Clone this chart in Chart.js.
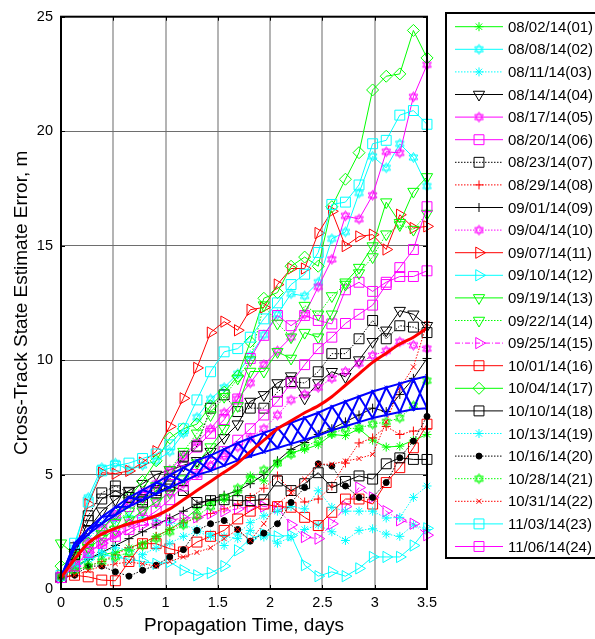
<!DOCTYPE html>
<html>
<head>
<meta charset="utf-8">
<script src="https://cdn.jsdelivr.net/npm/chart.js@4.4.1/dist/chart.umd.min.js"></script>
<style>
html, body { margin: 0; padding: 0; background: #fff; }
canvas { display: block; }
</style>
</head>
<body>
<canvas id="chart" width="595" height="639"></canvas>
<script>
// propagation time samples, days
const times = [0, 0.13, 0.26, 0.39, 0.52, 0.65, 0.78, 0.91, 1.04, 1.17, 1.3, 1.43, 1.56, 1.69,
               1.81, 1.94, 2.07, 2.2, 2.33, 2.46, 2.59, 2.72, 2.85, 2.98, 3.11, 3.24, 3.37, 3.5];
const xTicks = [0, 0.5, 1, 1.5, 2, 2.5, 3, 3.5];
const yTicks = [0, 5, 10, 15, 20, 25];

const dates = ["08/02/14(01)", "08/08/14(02)", "08/11/14(03)", "08/14/14(04)", "08/17/14(05)", "08/20/14(06)",
               "08/23/14(07)", "08/29/14(08)", "09/01/14(09)", "09/04/14(10)", "09/07/14(11)", "09/10/14(12)",
               "09/19/14(13)", "09/22/14(14)", "09/25/14(15)", "10/01/14(16)", "10/04/14(17)", "10/10/14(18)",
               "10/13/14(19)", "10/16/14(20)", "10/28/14(21)", "10/31/14(22)", "11/03/14(23)", "11/06/14(24)"];

// cross-track error per epoch, m
const s01 = [0.5,1.0,1.3,1.5,1.6,1.8,2.0,2.3,2.6,3.0,3.5,3.8,3.9,4.2,4.94,4.72,5.5,5.95,6.1,6.3,6.75,6.7,7.0,6.5,6.2,6.24,6.5,6.75];
const s02 = [0.5,1.8,4.0,5.3,5.5,5.2,5.4,5.6,6.0,6.8,7.5,8.3,8.8,9.4,10.2,11.1,12.0,12.9,12.8,13.4,15.3,15.6,17.3,18.9,18.4,19.45,18.85,17.6];
const s03 = [0.5,1.3,2.2,2.8,3.0,3.2,3.1,3.0,2.9,2.8,2.6,2.4,2.3,2.2,2.56,2.27,2.0,2.27,2.6,2.8,2.5,2.12,2.56,2.63,2.4,2.3,2.8,2.6];
const s04 = [0.5,1.6,2.6,3.4,3.9,4.3,4.6,5.0,5.2,5.4,5.6,6.0,6.6,7.2,8.19,8.48,9.0,9.3,8.33,9.0,9.49,9.27,10.0,10.8,11.3,12.16,12.0,11.5];
const s05 = [0.5,1.2,2.0,2.6,3.2,3.8,4.2,4.6,5.2,5.8,6.4,7.0,7.7,8.3,9.0,9.8,10.4,11.0,12.0,13.2,14.4,16.3,16.16,17.2,19.1,19.05,21.5,22.9];
const s06 = [0.5,1.2,2.0,2.6,3.2,3.6,4.0,4.4,5.0,5.6,6.2,6.8,7.4,8.3,10.07,11.08,11.95,11.5,11.95,11.73,11.58,13.07,13.4,13.0,13.4,13.65,13.65,13.9];
const s07 = [0.5,1.8,3.2,4.2,4.5,4.2,3.9,4.3,4.8,5.8,6.24,7.9,8.48,7.75,7.9,7.9,8.6,9.06,9.0,9.49,10.28,10.28,10.93,11.73,10.93,11.5,11.44,11.2];
const s08 = [0.5,0.8,1.0,1.2,1.5,1.8,2.0,2.3,2.6,2.9,3.1,3.3,3.5,3.7,4.0,4.4,4.94,4.29,3.8,3.93,4.5,5.5,6.38,6.6,7.1,6.75,6.9,7.0];
const s09 = [0.5,0.9,1.3,1.6,1.9,2.2,2.5,2.8,3.1,3.4,3.7,3.9,4.1,4.29,4.6,5.0,5.6,6.1,6.4,6.75,7.0,7.3,7.6,7.9,7.75,8.5,9.2,10.07];
const s10 = [0.5,1.0,1.5,2.0,2.4,2.9,3.4,3.8,4.2,4.6,5.0,5.4,5.8,6.2,6.6,7.0,7.6,8.26,8.5,8.8,9.2,9.5,9.85,10.2,10.4,10.8,10.65,10.5];
const s11 = [0.6,1.5,3.71,5.08,5.04,5.16,5.52,6.02,7.1,8.33,9.66,11.2,11.68,11.3,12.2,12.3,13.3,14.0,14.0,15.55,16.5,14.98,15.4,15.48,14.83,16.35,15.77,15.84];
const s12 = [0.5,0.9,1.3,1.5,1.4,1.3,1.2,1.1,1.18,0.82,0.6,0.7,1.0,1.69,2.2,2.4,2.3,2.34,1.04,0.56,0.75,0.56,0.9,1.4,1.4,1.4,1.9,2.65];
const s13 = [2.0,1.5,1.8,2.2,2.6,3.0,3.4,3.8,4.2,4.8,5.5,6.2,7.0,8.0,9.5,9.5,10.36,10.07,11.2,11.0,12.0,13.4,14.04,14.98,16.9,16.0,17.36,18.0];
const s14 = [0.5,1.2,1.8,2.4,2.9,3.4,3.9,4.5,5.2,6.0,6.8,7.6,8.4,9.2,10.0,12.4,11.6,11.0,12.38,12.0,12.8,13.3,13.8,14.5,15.5,15.9,15.7,16.4];
const s15 = [0.5,1.0,1.6,2.0,2.4,2.6,2.8,2.9,3.0,3.1,3.13,3.3,3.4,3.5,3.6,3.6,3.57,2.8,2.27,2.2,2.85,3.6,4.43,4.0,3.4,3.0,2.85,2.35];
const s16 = [0.5,0.6,0.53,0.39,0.36,1.2,1.98,1.98,1.76,1.62,2.05,2.3,2.56,3.06,3.4,3.71,3.6,3.57,3.13,2.77,3.35,3.93,3.93,3.71,4.65,5.3,6.17,7.2];
const s17 = [1.0,1.4,2.0,2.6,3.3,4.0,4.7,5.6,6.6,7.0,7.2,8.0,8.6,9.3,10.8,12.7,12.95,14.1,14.5,14.1,16.7,17.9,19.06,21.8,22.4,22.5,24.4,23.2];
const s18 = [0.5,1.5,2.99,3.93,4.29,4.0,3.8,4.2,4.5,4.3,3.78,3.86,3.9,3.86,3.86,3.9,4.72,4.3,4.6,5.08,4.43,4.7,4.94,4.8,5.47,5.73,5.66,5.66];
const s19 = [0.5,1.0,1.4,1.6,1.8,1.7,1.5,1.8,2.0,2.3,2.5,2.3,1.9,2.4,2.9,3.2,3.4,3.6,3.5,4.29,3.57,3.4,3.4,3.4,3.1,3.13,4.0,4.5];
const s20 = [0.5,0.6,1.0,1.0,0.75,0.56,0.82,1.04,1.4,1.72,2.56,2.85,2.99,2.6,2.09,2.44,2.85,3.78,4.43,5.47,5.37,4.5,4.0,4.0,4.65,5.73,6.46,7.54];
const s21 = [0.5,0.8,1.0,1.2,1.4,1.6,1.9,2.2,2.5,2.8,3.2,3.6,4.0,4.4,4.8,5.2,5.5,5.88,6.2,6.5,6.8,7.0,7.03,7.2,7.3,7.47,8.0,9.1];
const s22 = [0.5,0.6,0.8,1.0,1.1,1.18,1.1,1.0,1.2,1.4,1.6,1.8,2.2,2.6,2.12,2.85,3.71,4.2,4.8,5.45,5.45,5.59,5.7,5.88,7.3,8.77,9.7,11.6];
const s23 = [0.6,2.0,3.8,5.16,5.37,5.5,5.7,5.9,6.3,7.0,8.26,9.49,10.36,10.5,11.0,11.8,12.5,13.3,13.75,14.7,16.8,16.9,17.65,19.45,19.6,20.7,20.9,20.3];
const s24 = [0.5,1.0,1.6,2.0,2.3,2.6,3.0,3.4,3.9,4.5,5.0,5.5,6.0,6.5,7.0,7.6,8.2,9.0,9.8,10.5,11.0,11.6,12.0,12.4,13.3,14.04,14.83,16.7];

// mean error and its spread band
const meanErr = [0.5,1.3,2.0,2.4,2.65,2.85,3.0,3.2,3.5,3.9,4.3,4.7,5.1,5.5,6.0,6.5,7.0,7.35,7.7,8.0,8.4,8.9,9.4,9.9,10.3,10.7,11.0,11.4];
const bandUpper = [0.5,2.0,2.62,3.15,3.57,4.0,4.32,4.65,4.97,5.3,5.62,5.84,6.11,6.38,6.6,6.82,7.04,7.26,7.48,7.7,7.97,8.19,8.41,8.63,8.8,8.97,9.15,9.3];
const bandLower = [0.5,1.8,2.38,2.85,3.23,3.6,3.88,4.15,4.43,4.7,4.98,5.16,5.39,5.62,5.8,5.98,6.16,6.34,6.52,6.7,6.93,7.11,7.29,7.47,7.6,7.73,7.85,7.9];

const series = [s01, s02, s03, s04, s05, s06, s07, s08, s09, s10, s11, s12,
                s13, s14, s15, s16, s17, s18, s19, s20, s21, s22, s23, s24];

const G = "#00ff00", C = "#00ffff", M = "#ff00ff", R = "#ff0000", K = "#000000";
const dot = [1.5, 1.5];
// color, marker, dash
const styles = [
    [G, "star", null], [C, "hex", null], [C, "star", dot], [K, "down", null],
    [M, "hex", null], [M, "rect", null], [K, "rect", dot], [R, "cross", dot],
    [K, "cross", null], [M, "hex", dot], [R, "right", null], [C, "right", null],
    [G, "down", null], [G, "down", dot], [M, "right", [5, 2, 1, 2]], [R, "rect", null],
    [G, "diamond", null], [K, "rect", null], [C, "star", dot], [K, "dot", dot],
    [G, "hex", dot], [R, "x", dot], [C, "rect", null], [M, "rect", null]
];

function hexagram(color) {
    let c = document.createElement("canvas");
    c.width = 13; c.height = 13;
    let g = c.getContext("2d");
    g.strokeStyle = color;
    g.lineWidth = 1;
    [-Math.PI / 2, Math.PI / 2].forEach(function (off) {
        g.beginPath();
        for (let k = 0; k < 3; k++) {
            let a = off + k * 2 * Math.PI / 3;
            let px = 6.5 + 5 * Math.cos(a), py = 6.5 + 5 * Math.sin(a);
            if (k) g.lineTo(px, py); else g.moveTo(px, py);
        }
        g.closePath();
        g.stroke();
    });
    return c;
}

function markerOpts(color, m) {
    switch (m) {
        case "star": return { pointStyle: "star", radius: 4.5, rotation: 0 };
        case "hex": return { pointStyle: hexagram(color), radius: 6, rotation: 0 };
        case "down": return { pointStyle: "triangle", radius: 6.5, rotation: 180 };
        case "right": return { pointStyle: "triangle", radius: 6.5, rotation: 90 };
        case "rect": return { pointStyle: "rect", radius: 7, rotation: 0 };
        case "diamond": return { pointStyle: "rectRot", radius: 6, rotation: 0 };
        case "cross": return { pointStyle: "cross", radius: 4.5, rotation: 0 };
        case "x": return { pointStyle: "crossRot", radius: 3.5, rotation: 0 };
        case "dot": return { pointStyle: "circle", radius: 3, rotation: 0 };
    }
}

function xy(vals) {
    return vals.map(function (v, i) { return { x: times[i], y: vals[i] }; });
}

let datasets = [];
series.forEach(function (vals, i) {
    let st = styles[i];
    let mk = markerOpts(st[0], st[1]);
    datasets.push({
        label: dates[i],
        data: xy(vals),
        borderColor: st[0],
        backgroundColor: st[0],
        borderWidth: 1,
        borderDash: st[2] || [],
        pointStyle: mk.pointStyle,
        pointRadius: mk.radius,
        pointRotation: mk.rotation,
        pointBorderColor: st[0],
        pointBackgroundColor: st[1] === "dot" ? st[0] : "rgba(0,0,0,0)",
        pointBorderWidth: 1,
        tension: 0,
        clip: false,
        order: 100 - i,
        _marker: mk,
        _dash: st[2] || []
    });
});

// spread band drawn as a crossed mesh between the bounds
let zigA = bandUpper.map(function (u, i) { return i % 2 ? bandLower[i] : u; });
let zigB = bandUpper.map(function (u, i) { return i % 2 ? u : bandLower[i]; });
[bandUpper, bandLower, zigA, zigB].forEach(function (arr, k) {
    datasets.push({
        label: "", data: xy(arr), borderColor: "#0000ff", borderWidth: 2,
        pointRadius: k < 2 ? 0 : 2.5, pointStyle: "crossRot", pointBorderColor: "#0000ff",
        pointBorderWidth: 1, tension: 0, order: 2, _band: true
    });
});
datasets.push({
    label: "", data: xy(meanErr), borderColor: "#ff0000", borderWidth: 3,
    pointRadius: 0, tension: 0.3, order: 1, _band: true
});

const frame = {
    id: "frame",
    afterDatasetsDraw(chart) {
        let ctx = chart.ctx, a = chart.chartArea;
        let xs = chart.scales.x, ys = chart.scales.y;
        ctx.save();
        ctx.strokeStyle = "#000";
        ctx.lineWidth = 2;
        ctx.strokeRect(a.left, a.top, a.right - a.left, a.bottom - a.top);
        ctx.lineWidth = 1;
        ctx.beginPath();
        xTicks.forEach(function (v) {
            let px = Math.round(xs.getPixelForValue(v)) + 0.5;
            ctx.moveTo(px, a.top); ctx.lineTo(px, a.top + 4);
            ctx.moveTo(px, a.bottom); ctx.lineTo(px, a.bottom - 4);
        });
        yTicks.forEach(function (v) {
            let py = Math.round(ys.getPixelForValue(v)) + 0.5;
            ctx.moveTo(a.left, py); ctx.lineTo(a.left + 4, py);
            ctx.moveTo(a.right, py); ctx.lineTo(a.right - 4, py);
        });
        ctx.stroke();
        ctx.restore();
    },
    afterDraw(chart) {
        let ctx = chart.ctx;
        ctx.save();
        ctx.fillStyle = "#fff";
        ctx.fillRect(446, 13, 160, 545);
        ctx.strokeStyle = "#000";
        ctx.lineWidth = 2;
        ctx.strokeRect(446, 13, 160, 545);
        chart.data.datasets.forEach(function (ds, i) {
            if (ds._band) return;
            let y = 26.7 + i * 22.6;
            ctx.strokeStyle = ds.borderColor;
            ctx.lineWidth = 1;
            ctx.setLineDash(ds._dash);
            ctx.beginPath();
            ctx.moveTo(455, y); ctx.lineTo(503, y);
            ctx.stroke();
            ctx.setLineDash([]);
            ctx.fillStyle = ds.pointBackgroundColor;
            Chart.helpers.drawPoint(ctx, {
                pointStyle: ds._marker.pointStyle, rotation: ds._marker.rotation,
                radius: ds._marker.radius, borderWidth: 1
            }, 479, y);
            ctx.fillStyle = "#000";
            ctx.font = "15px 'Liberation Sans', Arial, sans-serif";
            ctx.textBaseline = "middle";
            ctx.fillText(ds.label, 508, y + 1);
        });
        ctx.restore();
    }
};

new Chart(document.getElementById("chart"), {
    type: "line",
    data: { datasets: datasets },
    options: {
        responsive: false,
        animation: false,
        devicePixelRatio: 1,
        layout: { padding: { left: 0, right: 168, top: 12, bottom: 0 } },
        plugins: { legend: { display: false }, tooltip: { enabled: false } },
        scales: {
            x: {
                type: "linear", min: 0, max: 3.5,
                afterBuildTicks: function (s) { s.ticks = xTicks.map(function (v) { return { value: v }; }); },
                afterFit: function (s) { s.height = 50; },
                ticks: {
                    color: "#000", padding: 5, maxRotation: 0,
                    font: { family: "'Liberation Sans', Arial, sans-serif", size: 14.5 },
                    callback: function (v) { return String(v); }
                },
                grid: { color: "#b4b4b4", lineWidth: 2, drawTicks: false },
                border: { display: false },
                title: {
                    display: true, text: "Propagation Time, days", color: "#000",
                    font: { family: "'Liberation Sans', Arial, sans-serif", size: 19 },
                    padding: { top: 0, bottom: 2 }
                }
            },
            y: {
                type: "linear", min: 0, max: 25,
                afterBuildTicks: function (s) { s.ticks = yTicks.map(function (v) { return { value: v }; }); },
                afterFit: function (s) { s.width = 61; },
                ticks: {
                    color: "#000", padding: 8,
                    font: { family: "'Liberation Sans', Arial, sans-serif", size: 14.5 }
                },
                grid: { color: "#6e6e6e", lineWidth: 1, drawTicks: false },
                border: { display: false },
                title: {
                    display: true, text: "Cross-Track State Estimate Error, m", color: "#000",
                    font: { family: "'Liberation Sans', Arial, sans-serif", size: 19 },
                    padding: { top: 10, bottom: 0 }
                }
            }
        }
    },
    plugins: [frame]
});
</script>
</body>
</html>
